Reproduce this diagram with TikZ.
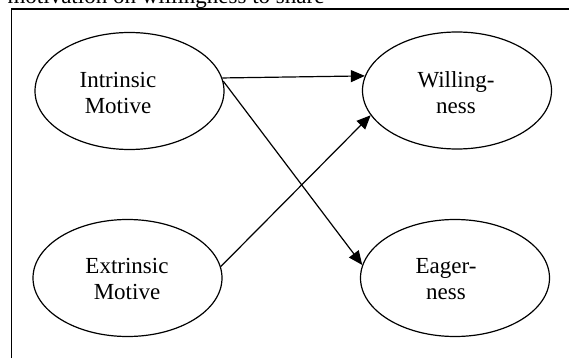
\documentclass[tikz,border=0pt]{standalone}
\usepackage{fontspec}
\setmainfont{Liberation Serif}
\usepackage{tikz}
\usetikzlibrary{arrows.meta,shapes.geometric}
\tikzset{every picture/.style={line width=1.2pt}}
\tikzset{
  motive/.style={draw, ellipse, minimum width=189pt, minimum height=117pt, inner sep=0pt},
  motivetext/.style={align=center, inner sep=0pt, font=\fontsize{23}{26}\selectfont},
  link/.style={-{Triangle[length=14pt,width=12pt]}}
}

\begin{document}
\begin{tikzpicture}[x=1pt,y=1pt,yscale=-1,xscale=1]
\useasboundingbox (0,0) rectangle (569,358);

%Text: caption, cut off at the top
\node [motivetext, anchor=base west] (caption) at (7,3.5) {motivation on willingness to share};
%Straight Lines: frame
\draw (11.5,358) -- (11.5,9) -- (569,9);

%Shape: Ellipse
\node [motive] (intr) at (129.5,91) {};
\node [motivetext] (intr-t) at (118,93) {Intrinsic\\Motive};
%Shape: Ellipse
\node [motive] (extr) at (127.5,278) {};
\node [motivetext] (extr-t) at (127,279) {Extrinsic\\Motive};
%Shape: Ellipse
\node [motive] (will) at (457,90.5) {};
\node [motivetext] (will-t) at (456,93) {Willing-\\ness};
%Shape: Ellipse
\node [motive] (eager) at (455,278) {};
\node [motivetext] (eager-t) at (446,279) {Eager-\\ness};

%Straight Lines
\draw [link] (intr.8.6) -- (will.171.8);
%Straight Lines
\draw [link] (intr.6.6) -- (eager.172);
%Straight Lines
\draw [link] (extr.7.2) -- (will.196.3);

\end{tikzpicture}
\end{document}
